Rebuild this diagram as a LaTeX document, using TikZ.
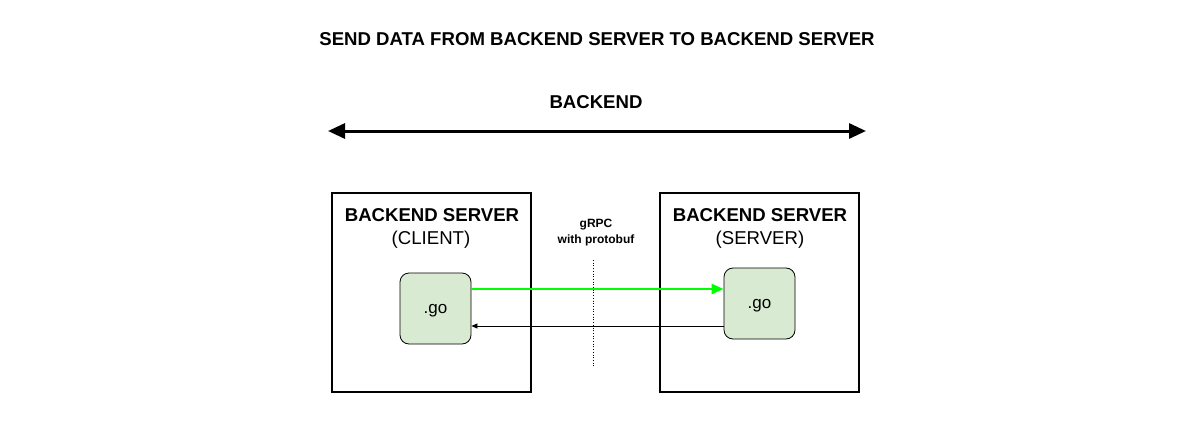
\documentclass[tikz,border=0pt]{standalone}
\usepackage{fontspec}
\setmainfont{Liberation Sans}
\usetikzlibrary{arrows.meta}
\definecolor{gofill}{HTML}{D9EAD3}
\definecolor{brightgreen}{HTML}{00FF00}
\begin{document}
\begin{tikzpicture}[x=1pt,y=-1pt,
  bigtxt/.style={font=\fontsize{18.6}{22}\selectfont\bfseries, inner sep=0pt, anchor=base},
  regtxt/.style={font=\fontsize{18.6}{22}\selectfont, inner sep=0pt, anchor=base},
  smalltxt/.style={font=\fontsize{12}{14}\selectfont\bfseries, inner sep=0pt, anchor=base},
  serverbox/.style={draw, line width=2pt, minimum width=199pt, minimum height=199pt, inner sep=0pt},
  gobox/.style={draw, line width=0.8pt, fill=gofill, rounded corners=9pt, minimum width=71pt, minimum height=71pt, inner sep=0pt, text depth=0pt, font=\fontsize{17}{19}\selectfont}
]
\useasboundingbox (0,0) rectangle (1194,423);
\node[bigtxt] (title) at (597,45) {SEND DATA FROM BACKEND SERVER TO BACKEND SERVER};
\node[bigtxt] (backend) at (596,108) {BACKEND};
\coordinate (al) at (328,131);
\coordinate (ar) at (866,131);
\draw[line width=3pt, {Triangle[length=17pt,width=15pt]}-{Triangle[length=17pt,width=15pt]}] (al) -- (ar);

\node[serverbox] (lb) at (431.5,292.5) {};
\node[serverbox] (rb) at (759.5,292.5) {};
\node[bigtxt] (lbt) at (432,221) {BACKEND SERVER};
\node[regtxt] (lbs) at (431,244) {(CLIENT)};
\node[bigtxt] (rbt) at (760,221) {BACKEND SERVER};
\node[regtxt] (rbs) at (760,244) {(SERVER)};

\node[gobox] (lg) at (435.5,308.5) {.go};
\node[gobox] (rg) at (759.5,303.5) {.go};

\node[smalltxt] (grpc) at (596,227) {gRPC};
\node[smalltxt] (proto) at (596,243) {with protobuf};
\coordinate (dt) at (593,260);
\coordinate (db) at (593,366);
\draw[dotted, line width=0.7pt] (dt) -- (db);

\draw[brightgreen, line width=2.5pt, -{Triangle[length=12pt,width=10pt]}] (lg.east |- 0,289) -- (rg.west |- 0,289);
\draw[line width=0.8pt, -{Triangle[length=6pt,width=5pt]}] (rg.west |- 0,326) -- (lg.east |- 0,326);
\end{tikzpicture}
\end{document}
